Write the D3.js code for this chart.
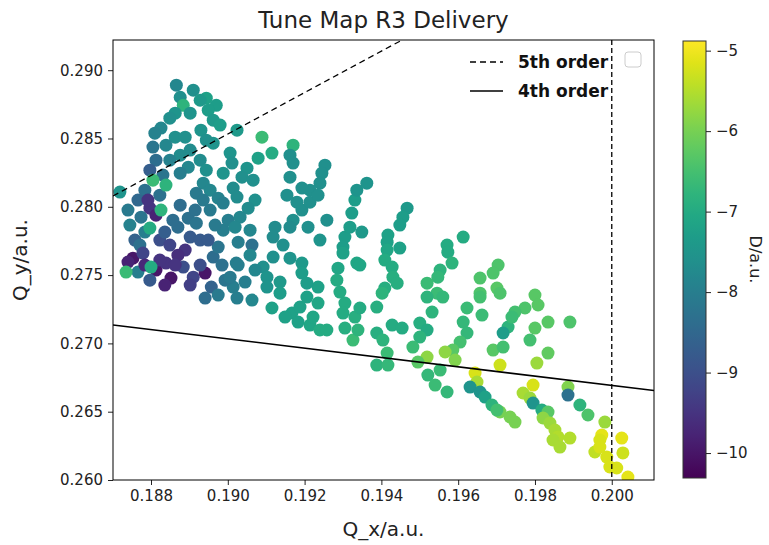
<!DOCTYPE html>
<html><head><meta charset="utf-8">
<script src="https://cdn.jsdelivr.net/npm/d3@7"></script>
<style>
body{margin:0;background:#fff;}
text{font-family:"DejaVu Sans",sans-serif;}
</style></head>
<body><svg id="c" width="769" height="545"></svg>
<script>
// ---- data (Q_x, Q_y, D) ----
const clusterTopLeft = [
[0.18866,0.28890,-7.8],[0.18910,0.28854,-7.6],[0.18876,0.28802,-7.6],[0.18884,0.28743,-6.8],
[0.18863,0.28685,-7.5],[0.18902,0.28685,-7.5],[0.18944,0.28795,-7.2],[0.18970,0.28743,-7.3],
[0.18949,0.28707,-7.3],[0.18962,0.28634,-7.4],[0.18980,0.28598,-7.3],[0.18930,0.28561,-7.5],
[0.18849,0.28649,-7.6],[0.18826,0.28576,-7.8],[0.18810,0.28539,-7.9],[0.18863,0.28510,-7.6],
[0.18889,0.28510,-7.6],[0.18902,0.28415,-7.7],[0.18876,0.28378,-7.7],[0.18839,0.28451,-7.8],
[0.18805,0.28437,-8.2],[0.18849,0.28341,-7.9],[0.18813,0.28341,-8.4],[0.18797,0.28268,-8.7],
[0.18831,0.28232,-8.2],[0.18784,0.28122,-8.3],[0.18928,0.28341,-7.7],[0.18962,0.28466,-7.5],
[0.18944,0.28268,-7.6],[0.18988,0.28246,-7.5],[0.18936,0.28173,-7.8],[0.18918,0.28100,-8.1],
[0.18944,0.28488,-7.6],[0.18897,0.28290,-7.8],[0.18876,0.28246,-8.0],[0.18928,0.28780,-7.4],
[0.19024,0.28561,-7.4],[0.19006,0.28393,-7.5],[0.19011,0.28320,-7.6],
[0.18954,0.28122,-7.8],[0.18975,0.28063,-7.9],[0.18823,0.28085,-8.3],[0.18766,0.28049,-8.5],
[0.18805,0.28195,-6.6],[0.18839,0.28159,-6.8]
];
const clusterLowLeft = [
[0.18719,0.28108,-7.5],[0.18740,0.27976,-8.1],[0.18745,0.27866,-7.9],[0.18758,0.27756,-8.6],
[0.18797,0.27990,-9.5],[0.18813,0.27939,-9.8],[0.18774,0.27924,-8.2],
[0.18784,0.27815,-8.0],[0.18771,0.27720,-8.3],[0.18753,0.27624,-10.0],[0.18779,0.27661,-9.2],
[0.18766,0.27522,-8.0],[0.18813,0.27537,-10.0],[0.18839,0.27588,-9.5],[0.18852,0.27478,-10.0],
[0.18889,0.27683,-9.5],[0.18870,0.27851,-8.4],[0.18857,0.27902,-8.4],[0.18897,0.27917,-8.3],
[0.18918,0.27880,-8.2],[0.18902,0.27778,-8.8],[0.18928,0.27756,-8.8],[0.18884,0.27559,-9.0],
[0.18910,0.27485,-9.2],[0.18941,0.27515,-10.0],[0.18957,0.27412,-8.6],[0.18962,0.27632,-8.4],
[0.18975,0.27705,-8.2],[0.18988,0.27829,-8.0],[0.19001,0.27902,-8.0],[0.18988,0.28027,-8.0],
[0.19022,0.27588,-8.0],[0.19014,0.27412,-8.0],[0.18954,0.27976,-8.1],[0.18936,0.28049,-8.1],
[0.18876,0.28012,-8.4],[0.18915,0.27976,-8.3],[0.18967,0.27866,-8.1],[0.18949,0.27756,-8.8],
[0.18985,0.27573,-8.3],[0.18993,0.27463,-8.2],[0.18975,0.27354,-8.1],[0.18941,0.27332,-8.4],
[0.18823,0.27756,-9.0],[0.18849,0.27720,-9.2],[0.18870,0.27646,-9.6],[0.18836,0.27815,-8.7],
[0.18836,0.27427,-9.8],[0.18902,0.27427,-9.3],[0.18928,0.27573,-9.0],[0.18784,0.27573,-9.7],
[0.18797,0.27463,-8.8],
[0.18740,0.27595,-9.8],[0.18823,0.27610,-9.5],[0.18863,0.27573,-9.5],[0.18792,0.28049,-9.5],
[0.19027,0.27573,-8.0],[0.19006,0.27485,-8.1],[0.19045,0.27449,-8.0],[0.19063,0.27317,-7.8],
[0.19024,0.27332,-8.0],
[0.18826,0.27976,-6.8],[0.18797,0.27844,-7.0],[0.18800,0.27559,-7.0],[0.18735,0.27522,-6.6]
];
const strandsMidUpper = [
[0.19089,0.28510,-6.6],[0.19170,0.28451,-6.8],[0.19162,0.28378,-7.6],[0.19170,0.28320,-7.6],
[0.19162,0.28217,-7.6],[0.19115,0.28393,-7.0],[0.19079,0.28356,-7.2],[0.19050,0.28283,-7.5],
[0.19037,0.28217,-7.6],[0.19066,0.28195,-7.6],[0.19014,0.28137,-7.7],[0.19024,0.28071,-7.7],
[0.19071,0.28049,-7.6],[0.19053,0.27990,-7.7],[0.19032,0.27924,-7.8],[0.19019,0.27851,-7.8],
[0.19058,0.27829,-7.8],[0.19063,0.27720,-8.3],[0.19027,0.27741,-8.0],[0.19253,0.28305,-7.6],
[0.19245,0.28246,-7.6],[0.19240,0.28173,-7.6],[0.19214,0.28122,-7.6],[0.19193,0.28137,-7.6],
[0.19154,0.28085,-7.6],[0.19180,0.28034,-7.6],[0.19193,0.27976,-7.6],[0.19170,0.27902,-7.6],
[0.19214,0.28034,-7.6],[0.19235,0.28085,-7.6],[0.19258,0.27902,-7.6],[0.19209,0.27851,-7.6],
[0.19162,0.27851,-7.7],[0.19123,0.27851,-7.7],[0.19118,0.27778,-7.7],[0.19144,0.27720,-7.6],
[0.19240,0.27756,-7.5],[0.19305,0.27778,-7.3],[0.19300,0.27705,-7.3],[0.19323,0.27954,-7.3],
[0.19318,0.27851,-7.3],[0.19331,0.28049,-7.3],[0.19336,0.28122,-7.5],[0.19362,0.28173,-7.5]
];
const strandsMidLower = [
[0.19118,0.27632,-7.6],[0.19092,0.27559,-7.6],[0.19102,0.27485,-7.5],[0.19102,0.27412,-7.5],
[0.19136,0.27449,-7.4],[0.19136,0.27368,-7.3],[0.19115,0.27259,-7.2],[0.19167,0.27222,-7.2],
[0.19149,0.27193,-7.2],[0.19188,0.27266,-7.2],[0.19183,0.27156,-7.2],[0.19214,0.27134,-7.1],
[0.19240,0.27098,-7.0],[0.19258,0.27098,-7.0],[0.19162,0.27624,-7.5],[0.19193,0.27588,-7.4],
[0.19193,0.27515,-7.3],[0.19235,0.27412,-7.2],[0.19206,0.27441,-7.3],[0.19206,0.27339,-7.2],
[0.19235,0.27295,-7.1],[0.19222,0.27193,-7.1],[0.19300,0.27661,-7.2],[0.19336,0.27588,-7.1],
[0.19287,0.27551,-7.1],[0.19284,0.27463,-7.0],[0.19292,0.27376,-7.0],[0.19305,0.27295,-7.0],
[0.19300,0.27222,-7.0],[0.19331,0.27193,-6.9],[0.19305,0.27112,-6.9],[0.19326,0.27024,-6.6],
[0.19339,0.27098,-6.8],[0.19058,0.27646,-7.8],[0.19071,0.27537,-7.8]
];
const strandsRightUpper = [
[0.19349,0.27815,-7.4],[0.19467,0.27990,-7.4],[0.19456,0.27924,-7.3],[0.19448,0.27866,-7.3],
[0.19417,0.27793,-7.2],[0.19415,0.27741,-7.2],[0.19448,0.27698,-7.2],[0.19415,0.27683,-7.1],
[0.19409,0.27610,-7.0],[0.19428,0.27559,-7.0],[0.19430,0.27485,-6.9],[0.19441,0.27441,-6.9],
[0.19409,0.27405,-6.9],[0.19613,0.27778,-7.0],[0.19571,0.27720,-7.0],[0.19573,0.27668,-7.0],
[0.19584,0.27588,-6.8],[0.19553,0.27537,-6.8],[0.19547,0.27485,-6.7],[0.19519,0.27441,-6.6],
[0.19545,0.27368,-6.6],[0.19704,0.27573,-6.4],[0.19691,0.27515,-6.4],[0.19657,0.27478,-6.4],
[0.19701,0.27405,-6.3],[0.19657,0.27368,-6.4],[0.19344,0.27573,-7.1]
];
const strandsRightMid = [
[0.19344,0.27259,-7.0],[0.19402,0.27368,-6.8],[0.19388,0.27266,-6.9],[0.19428,0.27134,-7.0],
[0.19454,0.27112,-7.0],[0.19388,0.27076,-6.9],[0.19404,0.27024,-6.8],[0.19415,0.26929,-6.6],
[0.19388,0.26841,-6.8],[0.19417,0.26841,-6.7],[0.19519,0.27339,-6.8],[0.19560,0.27339,-6.7],
[0.19532,0.27229,-6.8],[0.19500,0.27149,-6.9],[0.19519,0.27098,-7.0],[0.19500,0.27046,-6.8],
[0.19482,0.26973,-6.6],[0.19519,0.26900,-5.8],[0.19495,0.26863,-6.3],[0.19521,0.26768,-6.7],
[0.19553,0.26805,-6.6],[0.19540,0.26695,-6.6],[0.19571,0.26644,-6.7],[0.19623,0.27259,-6.6],
[0.19613,0.27156,-6.7],[0.19623,0.27076,-6.7],[0.19605,0.27010,-6.5],[0.19586,0.26951,-6.3],
[0.19566,0.26937,-5.8],[0.19592,0.26878,-5.9],[0.19644,0.26783,-5.2],[0.19649,0.26717,-5.6],
[0.19631,0.26680,-7.5],[0.19657,0.26644,-7.5],[0.19670,0.26607,-7.2],[0.19657,0.27339,-6.5],
[0.19662,0.27207,-6.6],[0.19709,0.27368,-6.4],[0.19730,0.27120,-6.8],[0.19717,0.27076,-7.3],
[0.19691,0.26951,-6.3],[0.19717,0.26973,-6.5],[0.19709,0.26841,-5.3]
];
const strandsFarRight = [
[0.19800,0.27354,-6.3],[0.19808,0.27281,-6.3],[0.19774,0.27259,-6.4],[0.19748,0.27229,-6.5],
[0.19740,0.27193,-6.6],[0.19834,0.27156,-6.3],[0.19891,0.27156,-6.4],[0.19800,0.27112,-6.3],
[0.19787,0.27024,-6.5],[0.19834,0.26929,-6.2],[0.19805,0.26856,-5.7]
];
const clusterBottomRight = [
[0.19795,0.26695,-5.2],[0.19769,0.26637,-5.6],[0.19787,0.26600,-5.7],[0.19795,0.26563,-7.5],
[0.19818,0.26512,-7.0],[0.19834,0.26498,-6.3],[0.19821,0.26454,-5.8],[0.19839,0.26417,-5.7],
[0.19852,0.26366,-5.6],[0.19860,0.26315,-5.5],[0.19891,0.26307,-5.5],[0.19847,0.26293,-5.6],
[0.19865,0.26241,-5.6],[0.19735,0.26461,-6.0],[0.19748,0.26424,-6.0],[0.19709,0.26498,-6.0],
[0.19886,0.26680,-5.9],[0.19886,0.26622,-8.3],[0.19917,0.26549,-6.8],[0.19938,0.26476,-6.4],
[0.19982,0.26424,-5.7],[0.19974,0.26329,-5.1],[0.19969,0.26293,-5.2],[0.20026,0.26307,-5.1],
[0.20029,0.26198,-5.3],[0.19956,0.26205,-5.4],[0.19987,0.26168,-5.2],[0.19995,0.26095,-5.2],
[0.20013,0.26088,-5.2],[0.20042,0.26022,-5.1],[0.19969,0.26241,-5.2],[0.19688,0.26549,-6.8],
[0.19701,0.26512,-6.5]
];

// reference lines
const line5th = [[0.18701,0.28079],[0.19454,0.29221]];
const line4th = [[0.18701,0.27135],[0.20110,0.26655]];
const verticalQx = 0.200;

// axes
const xDomain = [0.18701, 0.20110];
const yDomain = [0.260, 0.29221];
const xTicks = [0.188,0.190,0.192,0.194,0.196,0.198,0.200];
const yTicks = [0.260,0.265,0.270,0.275,0.280,0.285,0.290];
const cDomain = [-10.31, -4.88];
const cTicks = [-10,-9,-8,-7,-6,-5];

const legendItems = [{label:"5th order", dash:"6,4"},{label:"4th order", dash:null}];

// ---- drawing ----
const svg = d3.select("#c");
const L=113,R=654,T=40,B=480;
const x = d3.scaleLinear().domain(xDomain).range([L,R]);
const y = d3.scaleLinear().domain(yDomain).range([B,T]);
const color = d3.scaleSequential(d3.interpolateViridis).domain(cDomain);

svg.append("defs").append("clipPath").attr("id","clip")
  .append("rect").attr("x",L).attr("y",T).attr("width",R-L).attr("height",B-T);

const allPts = [].concat(clusterTopLeft, clusterLowLeft, strandsMidUpper, strandsMidLower,
  strandsRightUpper, strandsRightMid, strandsFarRight, clusterBottomRight);

const gp = svg.append("g").attr("clip-path","url(#clip)");
gp.selectAll("circle").data(allPts).join("circle")
  .attr("cx",d=>x(d[0])).attr("cy",d=>y(d[1])).attr("r",6.5)
  .attr("fill",d=>color(d[2]));

const lineGen = d3.line().x(d=>x(d[0])).y(d=>y(d[1]));
gp.append("path").attr("d",lineGen(line5th)).attr("fill","none")
  .attr("stroke","#000").attr("stroke-width",1.3).attr("stroke-dasharray","6,4");
gp.append("path").attr("d",lineGen(line4th)).attr("fill","none")
  .attr("stroke","#000").attr("stroke-width",1.6);
gp.append("line").attr("x1",x(verticalQx)).attr("x2",x(verticalQx)).attr("y1",T).attr("y2",B)
  .attr("stroke","#000").attr("stroke-width",1.3).attr("stroke-dasharray","5,3");

// axes
const fmt = d3.format(".3f");
const gx = svg.append("g").attr("transform",`translate(0,${B})`)
  .call(d3.axisBottom(x).tickValues(xTicks).tickFormat(fmt).tickSize(5).tickPadding(5).tickSizeOuter(0));
const gy = svg.append("g").attr("transform",`translate(${L},0)`)
  .call(d3.axisLeft(y).tickValues(yTicks).tickFormat(fmt).tickSize(5).tickPadding(5).tickSizeOuter(0));
[gx,gy].forEach(g=>{
  g.select(".domain").remove();
  g.selectAll("text").attr("font-family","DejaVu Sans").attr("font-size",15).attr("fill","#222");
  g.selectAll("line").attr("stroke","#222");
});
svg.append("rect").attr("x",L).attr("y",T).attr("width",R-L).attr("height",B-T)
  .attr("fill","none").attr("stroke","#000").attr("stroke-width",1);

// title & labels
svg.append("text").attr("x",(L+R)/2).attr("y",28).attr("text-anchor","middle")
  .attr("font-size",23).attr("fill","#222").text("Tune Map R3 Delivery");
svg.append("text").attr("x",(L+R)/2).attr("y",536).attr("text-anchor","middle")
  .attr("font-size",20).attr("fill","#222").text("Q_x/a.u.");
svg.append("text").attr("transform",`translate(27,${(T+B)/2}) rotate(-90)`).attr("text-anchor","middle")
  .attr("font-size",20).attr("fill","#222").text("Q_y/a.u.");

// legend
const lg = svg.append("g");
legendItems.forEach((it,i)=>{
  const yy = 62 + i*29;
  lg.append("line").attr("x1",470).attr("x2",503).attr("y1",yy).attr("y2",yy)
    .attr("stroke","#000").attr("stroke-width",1.5).attr("stroke-dasharray",it.dash);
  lg.append("text").attr("x",518).attr("y",yy+6).attr("font-family","Lato")
    .attr("font-weight","bold").attr("font-size",17).attr("fill","#111").text(it.label);
});
lg.append("rect").attr("x",625).attr("y",52).attr("width",16).attr("height",15).attr("rx",3)
  .attr("fill","#fff").attr("stroke","#ccc").attr("stroke-width",1);

// colorbar
const cbX=683, cbW=23, cbT=41, cbB=478;
const cy = d3.scaleLinear().domain(cDomain).range([cbB,cbT]);
const grad = svg.select("defs").append("linearGradient").attr("id","vg")
  .attr("x1","0").attr("y1","1").attr("x2","0").attr("y2","0");
d3.range(0,1.0001,0.05).forEach(t=>grad.append("stop").attr("offset",t).attr("stop-color",d3.interpolateViridis(t)));
svg.append("rect").attr("x",cbX).attr("y",cbT).attr("width",cbW).attr("height",cbB-cbT)
  .attr("fill","url(#vg)").attr("stroke","#333").attr("stroke-width",1);
const gc = svg.append("g").attr("transform",`translate(${cbX+cbW},0)`)
  .call(d3.axisRight(cy).tickValues(cTicks).tickFormat(d=>"\u2212"+Math.abs(d)).tickSize(5).tickPadding(5));
gc.select(".domain").remove();
gc.selectAll("text").attr("font-family","DejaVu Sans").attr("font-size",15).attr("fill","#222");
gc.selectAll("line").attr("stroke","#222");
svg.append("text").attr("transform",`translate(750,${(cbT+cbB)/2}) rotate(90)`).attr("text-anchor","middle")
  .attr("font-size",16).attr("fill","#222").text("D/a.u.");
</script></body></html>
